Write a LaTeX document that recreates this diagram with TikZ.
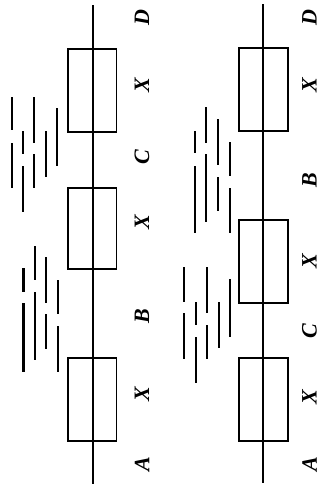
\documentclass[tikz,border=0pt]{standalone}
\usepackage{fontspec}
\setmainfont{Liberation Serif}
\begin{document}
\begin{tikzpicture}[x=1pt,y=-1pt,
  axisline/.style={line width=1.8pt},
  rbox/.style={draw,line width=1.6pt,minimum width=48.5pt,inner sep=0pt,fill=none},
  seg/.style={line width=2.3pt},
  lab/.style={rotate=90,font=\fontsize{22}{22}\selectfont\bfseries\itshape,inner sep=0pt}]
\useasboundingbox (0,0) rectangle (320,488);
% ---------- left diagram ----------
\coordinate (Lt) at (92.7,5);
\coordinate (Lb) at (92.7,484);
\draw[axisline] (Lt) -- (Lb);
\node[rbox,minimum height=83pt] (L1) at (92.2,90.5) {};
\node[rbox,minimum height=81pt] (L2) at (92.2,228.5) {};
\node[rbox,minimum height=83pt] (L3) at (92.2,399.5) {};
\node[lab] (lD) at (142,18) {D};
\node[lab] (lX1) at (142,85) {X};
\node[lab] (lC) at (142,157) {C};
\node[lab] (lX2) at (142,222) {X};
\node[lab] (lB) at (142,316) {B};
\node[lab] (lX3) at (142,394) {X};
\node[lab] (lA) at (142,464) {A};
% dashes upper-left
\draw[seg] (11.9,97) -- (11.9,130);
\draw[seg] (11.9,143) -- (11.9,188);
\draw[seg] (23.3,131) -- (23.3,154);
\draw[seg] (23.3,166) -- (23.3,212);
\draw[seg] (33.9,97) -- (33.9,143);
\draw[seg] (33.9,154) -- (33.9,188);
\draw[seg] (45.7,131) -- (45.7,177);
\draw[seg] (57.3,108) -- (57.3,166);
% dashes lower-left
\draw[seg] (23.6,268) -- (23.6,292);
\draw[seg] (23.6,303) -- (23.6,372);
\draw[seg] (34.7,246) -- (34.7,280);
\draw[seg] (34.7,292) -- (34.7,360);
\draw[seg] (46.2,257) -- (46.2,303);
\draw[seg] (46.2,314) -- (46.2,349);
\draw[seg] (57.7,280) -- (57.7,314);
\draw[seg] (57.7,326) -- (57.7,372);
% ---------- right diagram ----------
\coordinate (Rt) at (263.3,4);
\coordinate (Rb) at (263.3,483);
\draw[axisline] (Rt) -- (Rb);
\node[rbox,minimum height=83pt] (R1) at (263.5,89.5) {};
\node[rbox,minimum height=83pt] (R2) at (263.5,261.5) {};
\node[rbox,minimum height=83pt] (R3) at (263.5,399.5) {};
\node[lab] (rD) at (309.5,18) {D};
\node[lab] (rX1) at (309.5,85) {X};
\node[lab] (rB) at (309.5,180) {B};
\node[lab] (rX2) at (309.5,261) {X};
\node[lab] (rC) at (309.5,331) {C};
\node[lab] (rX3) at (309.5,397) {X};
\node[lab] (rA) at (309.5,464) {A};
% dashes upper-right
\draw[seg] (195,131) -- (195,153);
\draw[seg] (195,166) -- (195,233);
\draw[seg] (206.3,107) -- (206.3,143);
\draw[seg] (206.3,154) -- (206.3,222);
\draw[seg] (217.7,119) -- (217.7,165);
\draw[seg] (217.7,177) -- (217.7,211);
\draw[seg] (229.7,142) -- (229.7,176);
\draw[seg] (229.7,188) -- (229.7,233);
% dashes lower-right
\draw[seg] (184,267) -- (184,302);
\draw[seg] (184,313) -- (184,359);
\draw[seg] (195.7,302) -- (195.7,325);
\draw[seg] (195.7,337) -- (195.7,383);
\draw[seg] (207.3,267) -- (207.3,313);
\draw[seg] (207.3,325) -- (207.3,359);
\draw[seg] (218.7,302) -- (218.7,348);
\draw[seg] (229.7,279) -- (229.7,337);
\end{tikzpicture}
\end{document}
